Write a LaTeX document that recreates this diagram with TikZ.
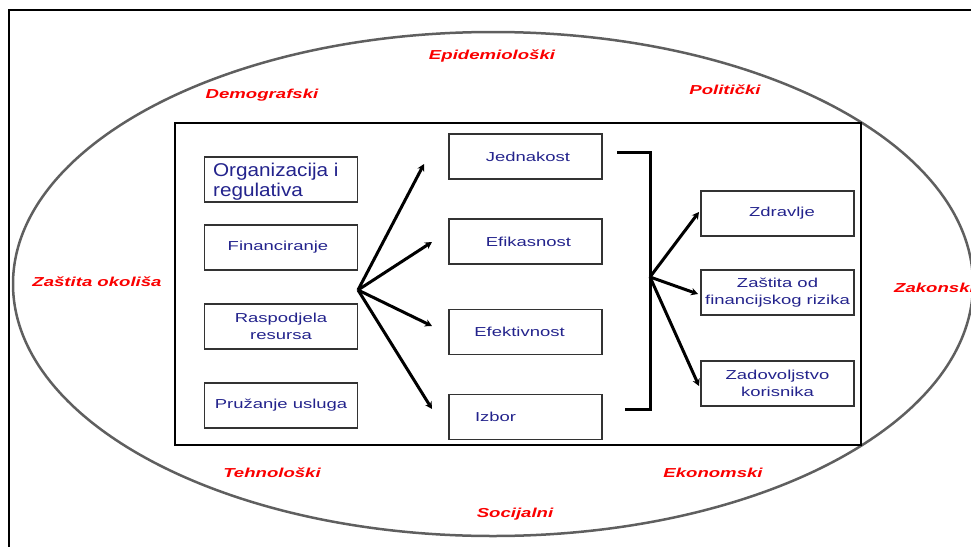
\documentclass[tikz,border=0pt]{standalone}
\usepackage{fontspec}
\setmainfont[FakeStretch=1.42]{Liberation Sans}
\newfontfamily\orgfont[FakeStretch=1.12]{Liberation Sans}
\newfontfamily\redfont[FakeStretch=1.43]{Liberation Sans}
\usetikzlibrary{arrows.meta}
\definecolor{boxblue}{RGB}{35,35,140}
\definecolor{labelred}{RGB}{250,0,0}
\definecolor{ringgray}{RGB}{95,95,95}
\begin{document}
\begin{tikzpicture}[x=1pt,y=-1pt,
  box/.style={draw=black!80, line width=1.2pt, minimum width=153pt, minimum height=45pt,
    inner sep=0pt, text=boxblue, font=\fontsize{13}{17.5}\selectfont, align=center},
  orgtext/.style={text=boxblue, font=\orgfont\fontsize{18.5}{20}\selectfont, align=left, inner sep=0pt},
  factor/.style={text=labelred, font=\redfont\bfseries\itshape\fontsize{13}{16}\selectfont, inner sep=0pt},
  fan/.style={line width=3pt, -{Stealth[length=7pt,width=7.5pt]}},
  bracketline/.style={line width=3pt},
]
\useasboundingbox (0,0) rectangle (971,546);
\begin{scope}
  \clip (0,0) rectangle (971,546);
  \draw[line width=2pt] (9,560) -- (9,10) -- (990,10);
  \draw[ringgray, line width=2.5pt] (493,284) ellipse [x radius=480pt, y radius=252pt];
  \node[factor, anchor=west] (zak) at (894,288) {Zakonski};
\end{scope}

% inner system box
\node[draw=black, line width=1.5pt, minimum width=686pt, minimum height=322pt, inner sep=0pt] (sys) at (518,284) {};

% left boxes
\node[box] (org) at (281,179.5) {};
\node[orgtext, anchor=west] (orgt) at ([xshift=9pt,yshift=-2pt]org.west) {Organizacija i\\regulativa};
\node[box] (fin) at (281,247.5) {\hspace*{-6pt}Financiranje};
\node[box] (ras) at (281,326.5) {Raspodjela\\resursa};
\node[box] (pru) at (281,405.5) {Pružanje usluga};

% middle boxes
\node[box] (jed) at (525.5,156.5) {\hspace*{5pt}Jednakost};
\node[box] (efi) at (525.5,241.5) {\hspace*{6pt}Efikasnost};
\node[box] (efe) at (525.5,332) {\hspace*{-12pt}Efektivnost};
\node[box, align=left, text width=101pt, inner xsep=26pt] (izb) at (525.5,417) {Izbor};

% right boxes
\node[box] (zdr) at (777.5,213.5) {\hspace*{9pt}Zdravlje};
\node[box] (zas) at (777.5,292.5) {Zaštita od\\financijskog rizika};
\node[box] (zad) at (777.5,383.5) {Zadovoljstvo\\korisnika};

% left fan
\coordinate (L) at (358,290);
\coordinate (t1) at (424,164);
\coordinate (t2) at (432,242);
\coordinate (t3) at (432,326);
\coordinate (t4) at (432,409);
\draw[fan] (L) -- (t1);
\draw[fan] (L) -- (t2);
\draw[fan] (L) -- (t3);
\draw[fan] (L) -- (t4);

% bracket
\coordinate (bt) at (617,152);
\coordinate (bb) at (625,409);
\draw[bracketline] (bt) -- (650,152) -- (650,409) -- (bb);

% right fan
\coordinate (R) at (650,277);
\coordinate (r1) at (699,212);
\coordinate (r2) at (698,294);
\coordinate (r3) at (699,386);
\draw[fan] (R) -- (r1);
\draw[fan] (R) -- (r2);
\draw[fan] (R) -- (r3);

% factor labels
\node[factor] (epi) at (492,56) {Epidemiološki};
\node[factor] (dem) at (262,95) {Demografski};
\node[factor] (pol) at (725,90) {Politički};
\node[factor] (oko) at (97,282) {Zaštita okoliša};
\node[factor] (teh) at (272,473) {Tehnološki};
\node[factor] (eko) at (713,473) {Ekonomski};
\node[factor] (soc) at (515,514) {Socijalni};
\end{tikzpicture}
\end{document}
